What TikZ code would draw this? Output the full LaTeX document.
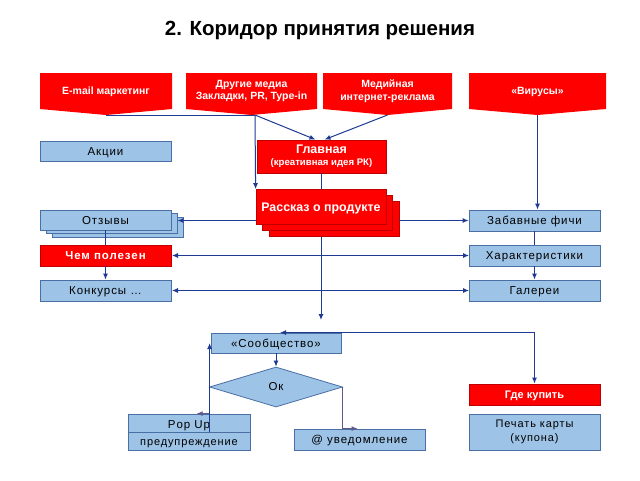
\documentclass[tikz,border=0pt]{standalone}
\usepackage{fontspec}
\setmainfont{Liberation Sans}
\newfontfamily\spaced[LetterSpace=8]{Liberation Sans}
\usetikzlibrary{shapes.geometric,arrows.meta}
\definecolor{myred}{HTML}{FF0000}
\definecolor{darkred}{HTML}{C00000}
\definecolor{lightblue}{HTML}{9DC3E6}
\definecolor{bordblue}{HTML}{4A6FA5}
\definecolor{connblue}{HTML}{1F3A93}
\definecolor{conngrey}{HTML}{5F5A8C}
\begin{document}
\begin{tikzpicture}[x=1pt,y=-1pt,
  redbox/.style={draw=darkred, line width=0.8pt, fill=myred, text=white, inner sep=0pt, align=center,
     font=\bfseries\fontsize{11}{13}\selectfont},
  bluebox/.style={draw=bordblue, line width=0.8pt, fill=lightblue, text=black, inner sep=0pt, align=center,
     font=\spaced\fontsize{11.5}{14}\selectfont},
  oneline/.style={text height=8.2pt, text depth=0pt},
  topshape/.style={fill=myred},
  toptext/.style={text=white, align=center, font=\bfseries\fontsize{10.5}{12.5}\selectfont},
  conn/.style={draw=connblue, line width=1pt},
  arr/.style={conn, -{Latex[length=6pt,width=5pt]}},
  arrboth/.style={conn, {Latex[length=6pt,width=5pt]}-{Latex[length=6pt,width=5pt]}},
  arrgrey/.style={draw=conngrey, line width=1pt, -{Latex[length=6pt,width=5pt]}},
  sz/.style 2 args={minimum width=#1pt, minimum height=#2pt}
]
\useasboundingbox[fill=white] (0,0) rectangle (640,480);

% title
\node (title) at (320,30) {\bfseries\fontsize{20.5}{24}\selectfont 2. Коридор принятия решения};

% top pentagon shapes
\fill[topshape] (40,73) -- (172,73) -- (172,109) -- (106,115) -- (40,109) -- cycle;
\coordinate (emailtip) at (106,115);
\node[toptext] (email) at (106,92) {E-mail маркетинг};

\fill[topshape] (186,73) -- (317,73) -- (317,109) -- (251.5,115) -- (186,109) -- cycle;
\coordinate (drutip) at (251.5,115);
\node[toptext] (dru) at (251.5,91) {Другие медиа\\Закладки, PR, Type-in};

\fill[topshape] (323,73) -- (452,73) -- (452,109) -- (387.5,115) -- (323,109) -- cycle;
\coordinate (medtip) at (387.5,115);
\node[toptext] (med) at (387.5,91) {Медийная\\интернет-реклама};

\fill[topshape] (469,73) -- (606,73) -- (606,109) -- (537.5,115) -- (469,109) -- cycle;
\coordinate (virtip) at (537.5,115);
\node[toptext] (vir) at (537.5,92) {«Вирусы»};

\coordinate (jn) at (255,115);

% central and background connectors (drawn first)
\draw[arr] (321,225) coordinate (cstart) -- (321,320) coordinate (cend);
\draw[arrboth] (172,255.5) coordinate (chemR) -- (469,255.5) coordinate (harL);
\draw[arrboth] (172,290.5) coordinate (konkR) -- (469,290.5) coordinate (galL);

% left column
\node[bluebox, oneline, sz={131}{20}] (akc) at (105.5,151) {Акции};
\node[bluebox, sz={131}{20}] (otz3) at (117.5,227) {};
\node[bluebox, sz={131}{20}] (otz2) at (111.5,223.5) {};
\node[bluebox, oneline, sz={131}{20}] (otz) at (105.5,220) {Отзывы};
\node[redbox, oneline, sz={131}{21}, font=\bfseries\spaced\fontsize{11.5}{14}\selectfont] (chem) at (105.5,255.5) {Чем полезен};
\node[bluebox, oneline, sz={131}{21}] (konk) at (105.5,290.5) {Конкурсы \dots};

% right column
\node[bluebox, oneline, sz={131}{21}] (zab) at (534.5,220.5) {Забавные фичи};
\node[bluebox, oneline, sz={131}{21}] (har) at (534.5,255.5) {Характеристики};
\node[bluebox, oneline, sz={131}{21}] (gal) at (534.5,290.5) {Галереи};

% centre
\node[redbox, sz={129}{33}, font=\bfseries\fontsize{12.5}{13}\selectfont] (glav) at (321.5,156.5) {Главная\\[-1pt]{\fontsize{9.6}{11}\selectfont (креативная идея РК)}};
\node[redbox, sz={130}{35}] (ras3) at (334,219) {};
\node[redbox, sz={130}{35}] (ras2) at (327.5,213) {};
\node[redbox, oneline, sz={130}{35}, font=\bfseries\fontsize{12.4}{14}\selectfont] (ras) at (321,207) {Рассказ о продукте};

% top connectors
\draw[conn] (emailtip) -- (jn);
\draw[arr] (jn) -- ([xshift=-6pt]glav.north);
\draw[arr] (medtip) -- ([xshift=3pt]glav.north);
\draw[arr] (jn) -- (ras.north west);
\draw[conn] (glav.south) -- (glav.south |- ras.north);
\draw[arr] (virtip) -- (virtip |- zab.north);

\draw[arr] (ras3.east |- zab.west) -- (zab.west);
\draw[arr] (ras.west |- zab.west) -- (otz2.east |- zab.west);

\draw[conn] (zab.south) -- (har.north);
\draw[arr] (har.south) -- (gal.north);
\draw[conn] (otz.south) -- (chem.north);
\draw[arr] (chem.south) -- (konk.north);

% lower part
\node[bluebox, oneline, sz={130}{20}] (soob) at (276,343) {«Сообщество»};
\node[diamond, draw=bordblue, line width=0.8pt, fill=lightblue, inner sep=0pt, aspect=3.3,
      minimum width=133pt, minimum height=40pt, font=\spaced\fontsize{11.5}{14}\selectfont] (ok) at (276,387) {Ок};
\node[bluebox, sz={122}{36}] (popup) at (189,432) {};
\draw[bordblue, line width=0.8pt] (popup.west) -- (popup.east);
\node[font=\spaced\fontsize{11.5}{14}\selectfont, oneline, inner sep=0pt] (popt) at (189,424) {Pop Up};
\node[font=\spaced\fontsize{11}{13}\selectfont, oneline, inner sep=0pt] (popb) at (189,441.5) {предупреждение};
\node[bluebox, oneline, sz={131}{21}] (uved) at (359.5,439.5) {@ уведомление};
\node[redbox, oneline, sz={131}{21}] (gde) at (534.5,394.5) {Где купить};
\node[bluebox, sz={131}{36}, font=\spaced\fontsize{11}{14}\selectfont] (pech) at (534.5,432) {Печать карты\\(купона)};

\coordinate (corner) at (gde.north |- soob.north);
\draw[arr] (corner) -- (gde.north);
\draw[arr] (corner) -- ([xshift=4pt]soob.north);
\draw[arr] (soob.south) -- (ok.north);
\draw[arrgrey] (ok.west) |- ([xshift=69pt]popup.north west);
\draw[arrgrey] (ok.east) |- ([xshift=64pt]uved.north west);
\draw[arr] ([xshift=-1pt]soob.west |- popup.center) -- ([xshift=-1pt]soob.west);
\end{tikzpicture}
\end{document}
